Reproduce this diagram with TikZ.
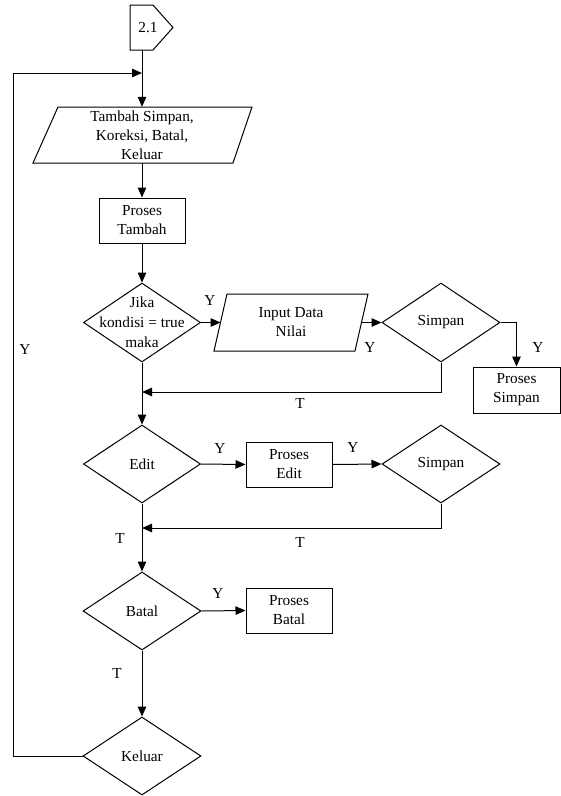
\documentclass[tikz,border=0pt]{standalone}
\usepackage{fontspec}
\setmainfont{Liberation Serif}
\usetikzlibrary{shapes.geometric,arrows.meta}
\begin{document}
\begin{tikzpicture}[x=1pt,y=-1pt,
  every node/.style={font=\fontsize{15.3}{19}\selectfont},
  line/.style={draw=black, line width=1pt},
  arr/.style={line, -{Triangle[length=10pt,width=8.5pt]}},
  box/.style={rectangle, draw=black, line width=1pt, align=center, inner sep=0pt},
  txt/.style={rectangle, draw=none, align=center, inner sep=0pt},
  dia/.style={diamond, draw=black, line width=1pt, inner sep=0pt, minimum width=118pt, minimum height=79pt},
  lab/.style={inner sep=0pt}
]
\useasboundingbox (0,0) rectangle (561,796);

% off-page connector 2.1
\node[txt, minimum width=43pt, minimum height=45pt] (conn) at (151.5,27.5) {};
\draw[line] (130,5) -- (153,5) -- (173,27.5) -- (153,50) -- (130,50) -- cycle;
\node[lab] (connt) at (148,28) {2.1};

% input parallelogram
\node[txt, minimum width=150pt, minimum height=56pt] (tambah) at (142,135) {Tambah Simpan,\\Koreksi, Batal,\\Keluar};
\draw[line] (58,107) -- (252,107) -- (233,163) -- (33,163) -- cycle;

\node[box, minimum width=86pt, minimum height=45pt] (ptambah) at (142,220.5) {Proses\\Tambah};

\node[dia, minimum width=117pt, label={[align=center, font=\fontsize{15.3}{20}\selectfont]center:Jika\\kondisi = true\\maka}] (jika) at (142,322.5) {};

\node[txt, minimum width=120pt, minimum height=57pt] (input) at (291,322.5) {Input Data\\Nilai};
\draw[line] (227,294) -- (368,294) -- (355,351) -- (214,351) -- cycle;
\coordinate (inL) at (220.6,322.5);
\coordinate (inR) at (361.6,322.5);

\node[dia, label={center:Simpan}] (simpan1) at (441,322.5) {};
\node[box, minimum width=87pt, minimum height=46pt] (psimpan) at (516.5,390) {Proses\\Simpan};
\coordinate (join1) at (142,392);

\node[dia, minimum width=117pt, minimum height=78pt, label={center:Edit}] (edit) at (142,464) {};
\node[box, minimum width=86pt, minimum height=45pt] (pedit) at (289,464.5) {Proses\\Edit};
\node[dia, minimum height=78pt, label={center:Simpan}] (simpan2) at (441,464) {};
\coordinate (join2) at (142,528);

\node[dia, minimum height=78pt, label={center:Batal}] (batal) at (142,611) {};
\node[box, minimum width=86pt, minimum height=45pt] (pbatal) at (289,610.5) {Proses\\Batal};

\node[dia, minimum height=78pt, label={center:Keluar}] (keluar) at (142,756) {};

\coordinate (j) at (142,73);
\coordinate (lb) at (13,756);
\coordinate (lt) at (13,73);

% connectors
\draw[line] (conn.south -| tambah.north) -- (j);
\draw[arr] (j) -- (tambah.north);
\draw[arr] (tambah.south) -- (ptambah.north);
\draw[arr] (ptambah.south) -- (jika.north);
\draw[arr] (jika.east) -- (inL);
\draw[arr] (inR) -- (simpan1.west);
\draw[arr] (simpan1.east) -| (psimpan.north);
\draw[arr] (simpan1.south) |- (join1);
\draw[arr] (jika.south) -- (edit.north);
\draw[arr] (edit.east) -- (pedit.west);
\draw[arr] (pedit.east) -- (simpan2.west);
\draw[arr] (simpan2.south) |- (join2);
\draw[arr] (edit.south) -- (batal.north);
\draw[arr] (batal.east) -- (pbatal.west);
\draw[arr] (batal.south) -- (keluar.north);
\draw[arr] (keluar.west) -- (lb) -- (lt) -- (j);

% labels
\node[lab] (y1) at (210,300) {Y};
\node[lab] (y2) at (370,347) {Y};
\node[lab] (y3) at (538,347) {Y};
\node[lab] (t1) at (300,403) {T};
\node[lab] (y4) at (220,448) {Y};
\node[lab] (y5) at (353,447) {Y};
\node[lab] (t2) at (300,542) {T};
\node[lab] (t3) at (120,538) {T};
\node[lab] (y6) at (218,593) {Y};
\node[lab] (t4) at (117,673) {T};
\node[lab] (y7) at (25,349) {Y};
\end{tikzpicture}
\end{document}
